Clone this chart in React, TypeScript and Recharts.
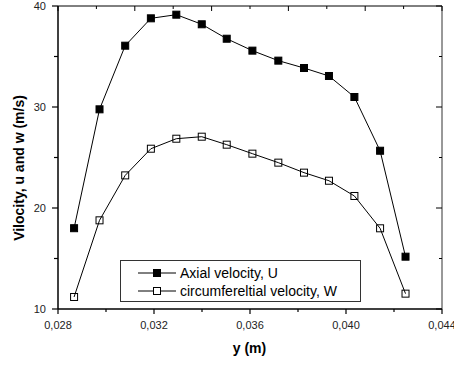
import React from 'react';
import { LineChart, Line, XAxis, YAxis, Legend } from 'recharts';

const yPositions = [0.02867, 0.02973, 0.0308, 0.03187, 0.03293, 0.03399, 0.03503, 0.0361, 0.03718, 0.03825, 0.03929, 0.04035, 0.04142, 0.04248];
const axialU = [18.0, 29.77, 36.07, 38.78, 39.14, 38.19, 36.76, 35.58, 34.59, 33.86, 33.07, 30.99, 25.67, 15.18];
const circumW = [11.19, 18.78, 23.23, 25.87, 26.86, 27.06, 26.27, 25.38, 24.49, 23.5, 22.7, 21.19, 17.99, 11.52];

const xMajorTicks = [0.028, 0.032, 0.036, 0.040, 0.044];
const xMinorTicks = [0.030, 0.034, 0.038, 0.042];
const xTickLabels = ['0,028', '0,032', '0,036', '0,040', '0,044'];
const topTicks = [0.028, 0.0296, 0.0312, 0.0328, 0.0344, 0.036, 0.0376, 0.0392, 0.0408, 0.0424, 0.044];
const yMajorTicks = [10, 20, 30, 40];
const yMinorTicks = [15, 25, 35];
const yTickLabels = ['10', '20', '30', '40'];

const seriesNames = ['Axial velocity, U', 'circumfereltial velocity, W'];

const data = yPositions.map((y, i) => ({ y, u: axialU[i], w: circumW[i] }));

const FONT = '"Liberation Sans", Arial, sans-serif';

const near = (a: number, b: number) => Math.abs(a - b) < 1e-7;
const majorIndex = (arr: number[], v: number) => arr.findIndex((t) => near(t, v));

const BottomTick = (props: any) => {
  const { x, y, payload } = props;
  const idx = majorIndex(xMajorTicks, payload.value);
  const major = idx >= 0;
  return (
    <g>
      <line x1={x} x2={x} y1={y} y2={y + (major ? 5 : 3)} stroke="#000" strokeWidth={1.2} />
      {major && (
        <text x={x} y={y + 20} textAnchor="middle" fontSize={11} fill="#222" fontFamily={FONT}>
          {xTickLabels[idx]}
        </text>
      )}
    </g>
  );
};

const TopTick = (props: any) => {
  const { x, y, payload } = props;
  const i = topTicks.findIndex((t) => near(t, payload.value));
  const major = i % 2 === 0;
  return <line x1={x} x2={x} y1={y} y2={y + (major ? 5 : 3)} stroke="#000" strokeWidth={1} />;
};

const LeftTick = (props: any) => {
  const { x, y, payload } = props;
  const idx = majorIndex(yMajorTicks, payload.value);
  const major = idx >= 0;
  return (
    <g>
      <line x1={x - (major ? 6 : 4)} x2={x} y1={y} y2={y} stroke="#000" strokeWidth={1.2} />
      {major && (
        <text x={x - 12} y={y + 4} textAnchor="end" fontSize={11} fill="#222" fontFamily={FONT}>
          {yTickLabels[idx]}
        </text>
      )}
    </g>
  );
};

const RightTick = (props: any) => {
  const { x, y, payload } = props;
  const major = majorIndex(yMajorTicks, payload.value) >= 0;
  return <line x1={x - (major ? 6 : 3)} x2={x} y1={y} y2={y} stroke="#000" strokeWidth={1} />;
};

const FilledSquare = (props: any) => {
  const { cx, cy, index } = props;
  return <rect key={`u-${index}`} x={cx - 3.5} y={cy - 3.5} width={7} height={7} fill="#000" stroke="#000" strokeWidth={1} />;
};

const OpenSquare = (props: any) => {
  const { cx, cy, index } = props;
  return <rect key={`w-${index}`} x={cx - 3.5} y={cy - 3.5} width={7} height={7} fill="none" stroke="#000" strokeWidth={1} />;
};

const LegendBox = () => (
  <div
    style={{
      position: 'relative',
      width: 241,
      height: 42,
      border: '1px solid #333',
      boxSizing: 'border-box',
      background: '#fff',
      fontFamily: FONT,
      fontSize: 14,
      color: '#000',
    }}
  >
    {seriesNames.map((name, i) => (
      <div key={name} style={{ position: 'absolute', left: 0, top: i === 0 ? 3 : 21, height: 18, width: 239 }}>
        <svg width={40} height={18} style={{ position: 'absolute', left: 17, top: 0 }}>
          <line x1={0} x2={38} y1={9} y2={9} stroke="#000" strokeWidth={1} />
          <rect x={15.5} y={5.5} width={7} height={7} fill={i === 0 ? '#000' : '#fff'} stroke="#000" strokeWidth={1} />
        </svg>
        <span style={{ position: 'absolute', left: 59, top: 0, lineHeight: '18px', whiteSpace: 'nowrap' }}>{name}</span>
      </div>
    ))}
  </div>
);

export default function App() {
  return (
    <div style={{ position: 'absolute', left: 0, top: 0, width: 454, height: 365, background: '#fff' }}>
      <LineChart width={454} height={365} data={data} margin={{ top: 5, right: 11, bottom: 0, left: 0 }}>
        <XAxis
          xAxisId="bottom"
          dataKey="y"
          type="number"
          domain={[0.028, 0.044]}
          allowDataOverflow
          ticks={[...xMajorTicks, ...xMinorTicks].sort((a, b) => a - b)}
          interval={0}
          height={56}
          tickSize={0}
          tickMargin={0}
          tickLine={false}
          tick={<BottomTick />}
          axisLine={{ stroke: '#000', strokeWidth: 1.5 }}
        />
        <XAxis
          xAxisId="top"
          orientation="top"
          type="number"
          dataKey="y"
          domain={[0.028, 0.044]}
          allowDataOverflow
          ticks={topTicks}
          interval={0}
          height={1}
          tickSize={0}
          tickMargin={0}
          tickLine={false}
          tick={<TopTick />}
          axisLine={{ stroke: '#000', strokeWidth: 1 }}
        />
        <YAxis
          yAxisId="left"
          type="number"
          domain={[10, 40]}
          allowDataOverflow
          ticks={[...yMajorTicks, ...yMinorTicks].sort((a, b) => a - b)}
          interval={0}
          width={58}
          tickSize={0}
          tickMargin={0}
          tickLine={false}
          tick={<LeftTick />}
          axisLine={{ stroke: '#000', strokeWidth: 1.5 }}
        />
        <YAxis
          yAxisId="right"
          orientation="right"
          type="number"
          domain={[10, 40]}
          allowDataOverflow
          ticks={[...yMajorTicks, ...yMinorTicks].sort((a, b) => a - b)}
          interval={0}
          width={1}
          tickSize={0}
          tickMargin={0}
          tickLine={false}
          tick={<RightTick />}
          axisLine={{ stroke: '#333', strokeWidth: 1 }}
        />
        <Line
          xAxisId="bottom"
          yAxisId="left"
          type="linear"
          dataKey="u"
          name={seriesNames[0]}
          stroke="#000"
          strokeWidth={1}
          dot={FilledSquare}
          activeDot={false}
          isAnimationActive={false}
        />
        <Line
          xAxisId="bottom"
          yAxisId="left"
          type="linear"
          dataKey="w"
          name={seriesNames[1]}
          stroke="#000"
          strokeWidth={1}
          dot={OpenSquare}
          activeDot={false}
          isAnimationActive={false}
        />
        <Legend
          layout="vertical"
          align="center"
          verticalAlign="middle"
          content={() => <LegendBox />}
          wrapperStyle={{ position: 'absolute', left: 120, top: 260, width: 241, height: 42, margin: 0 }}
        />
        <text x={249.5} y={353} textAnchor="middle" fontSize={14} fontWeight="bold" fontFamily={FONT} fill="#000">
          y (m)
        </text>
        <text
          x={23.5}
          y={168}
          transform="rotate(-90 23.5 168)"
          textAnchor="middle"
          fontSize={14}
          fontWeight="bold"
          fontFamily={FONT}
          fill="#000"
        >
          Vilocity, u and w (m/s)
        </text>
      </LineChart>
    </div>
  );
}
